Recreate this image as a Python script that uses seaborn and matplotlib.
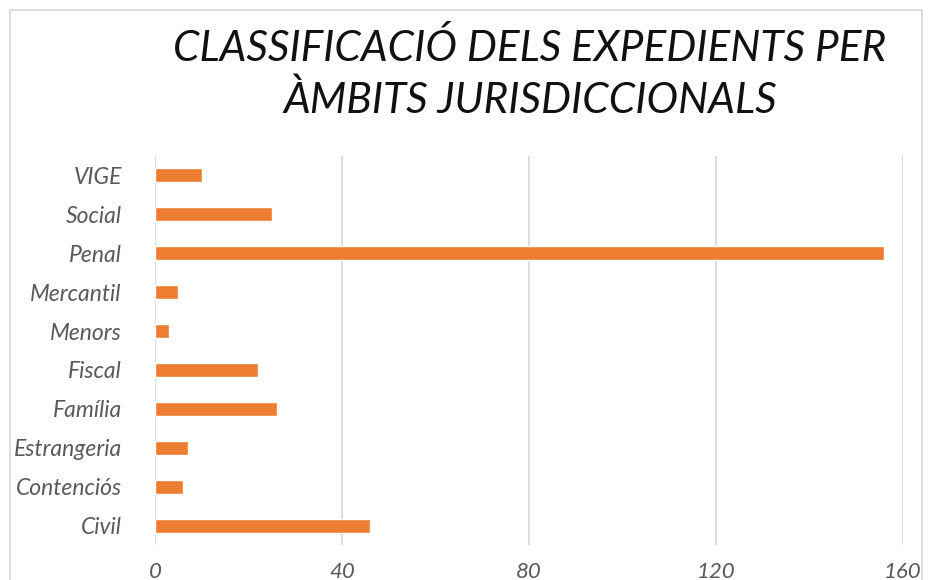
import matplotlib
matplotlib.use("Agg")
from matplotlib import pyplot as plt
from matplotlib.patches import Rectangle
import pandas as pd
import seaborn as sns

ambits = ['VIGE', 'Social', 'Penal', 'Mercantil', 'Menors', 'Fiscal',
          'Família', 'Estrangeria', 'Contenciós', 'Civil']
expedients = [10, 25, 156, 5, 3, 22, 26, 7, 6, 46]
xticks = [0, 40, 80, 120, 160]

if __name__ == "__main__":
    sns.set_style('white')
    plt.rcParams['font.family'] = ['Lato', 'DejaVu Sans']

    data = pd.DataFrame({'ambit': ambits, 'expedients': expedients})

    fig = plt.figure(figsize=(9.3, 5.8), dpi=100)
    ax = fig.add_axes([155 / 930, 1 - 545 / 580, 748 / 930, 389 / 580])

    sns.barplot(data=data, x='expedients', y='ambit', order=ambits,
                orient='h', color='#ed7d31', saturation=1, width=0.36, ax=ax)

    ax.set_xlim(0, 160)
    ax.set_xticks(xticks)
    ax.set_xticklabels([str(t) for t in xticks])
    ax.xaxis.grid(True, color='#d9d9d9', linewidth=1.3)
    ax.set_axisbelow(True)
    for s in ax.spines.values():
        s.set_visible(False)
    ax.set_xlabel('')
    ax.set_ylabel('')
    ax.tick_params(axis='both', length=0, colors='#595959')
    ax.tick_params(axis='y', labelsize=16.5, pad=24)
    ax.tick_params(axis='x', labelsize=16, pad=12)
    for lbl in ax.get_xticklabels() + ax.get_yticklabels():
        lbl.set_fontstyle('italic')

    fig.text(530 / 930, 1 - 48 / 580, 'CLASSIFICACIÓ DELS EXPEDIENTS PER',
             ha='center', va='center', fontsize=30.5, fontstyle='italic', color='#111111')
    fig.text(530 / 930, 1 - 100 / 580, 'ÀMBITS JURISDICCIONALS',
             ha='center', va='center', fontsize=30.5, fontstyle='italic', color='#111111')

    fig.patches.append(Rectangle((10 / 930, -0.1), 912 / 930, 1.1 - 10 / 580,
                                 transform=fig.transFigure, fill=False,
                                 edgecolor='#d9d9d9', linewidth=1.2))

    plt.savefig('out.png', dpi=100)
